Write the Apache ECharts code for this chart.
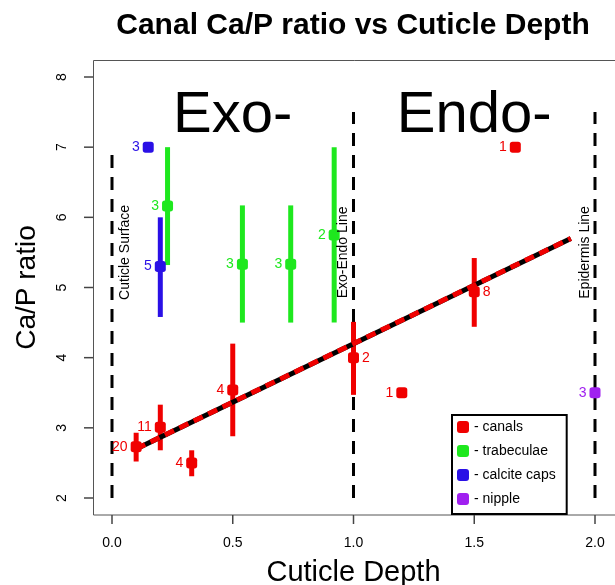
<!DOCTYPE html>
<html lang="en">
<head>
    <meta charset="UTF-8">
    <title>Canal Ca/P ratio vs Cuticle Depth</title>
    <script src="https://cdn.jsdelivr.net/npm/echarts@6/dist/echarts.min.js"></script>
    <style>
        html, body { margin: 0; padding: 0; background: #fff; }
        #main { width: 615px; height: 585px; }
    </style>
</head>
<body>
    <div id="main"></div>
    <script>
        // canals
        let canalX = [0.1, 0.2, 0.33, 0.5, 1.0, 1.2, 1.5, 1.67];
        let canalY = [2.73, 3.01, 2.5, 3.54, 4.0, 3.5, 4.94, 7.0];
        let canalLo = [2.52, 2.68, 2.31, 2.88, 3.47, null, 4.44, null];
        let canalHi = [2.93, 3.33, 2.68, 4.2, 4.51, null, 5.42, null];
        let canalN = [20, 11, 4, 4, 2, 1, 8, 1];
        let canalSide = ['left', 'left', 'left', 'left', 'right', 'left', 'right', 'left'];

        // trabeculae
        let trabX = [0.23, 0.54, 0.74, 0.92];
        let trabY = [6.16, 5.33, 5.33, 5.75];
        let trabLo = [5.32, 4.5, 4.5, 4.5];
        let trabHi = [7.0, 6.17, 6.17, 7.0];
        let trabN = [3, 3, 3, 2];

        // calcite caps
        let capX = [0.15, 0.2];
        let capY = [7.0, 5.3];
        let capLo = [null, 4.58];
        let capHi = [null, 6.0];
        let capN = [3, 5];

        // nipple
        let nipX = [2.0];
        let nipY = [3.5];
        let nipN = [3];

        // fit line
        let fitX = [0.1, 1.9];
        let fitY = [2.7, 5.7];

        // boundaries
        let boundX = [0, 1, 2];
        let boundTop = [6.9, 7.5, 7.5];
        let boundBottom = 2;
        let boundNames = ['Cuticle Surface', 'Exo-Endo Line', 'Epidermis Line'];
        let boundLabelX = [0.053, 0.957, 1.96];
        let boundLabelY = 5.5;

        let zoneNames = ['Exo-', 'Endo-'];
        let zoneX = [0.5, 1.5];
        let zoneY = 7.45;

        let xTicks = [0, 0.5, 1, 1.5, 2];
        let yTicks = [2, 3, 4, 5, 6, 7, 8];

        let RED = '#f00000', GREEN = '#1ee81e', BLUE = '#2a10e6', PURPLE = '#a020f0';
        let FONT = '"Liberation Sans", Arial, Helvetica, sans-serif';
        let X_OFF = 17, Y_OFF = 19, TICK = 9;

        function pts(xs, ys) {
            return xs.map(function (x, i) { return [x, ys[i]]; });
        }
        function bars(xs, lo, hi) {
            let out = [];
            xs.forEach(function (x, i) {
                if (lo[i] != null) out.push([x, lo[i], hi[i]]);
            });
            return out;
        }
        function errRender(params, api) {
            let a = api.coord([api.value(0), api.value(1)]);
            let b = api.coord([api.value(0), api.value(2)]);
            return {
                type: 'line',
                shape: { x1: a[0], y1: a[1], x2: b[0], y2: b[1] },
                style: { stroke: api.visual('color'), lineWidth: 5, lineCap: 'butt' }
            };
        }
        function errSeries(name, color, data) {
            return {
                name: name, type: 'custom', renderItem: errRender, clip: false,
                data: data, itemStyle: { color: color }, silent: true, z: 3
            };
        }
        function markSeries(name, color, xs, ys, ns, sides) {
            return {
                name: name, type: 'scatter', symbol: 'roundRect', symbolSize: 11, clip: false,
                data: xs.map(function (x, i) {
                    return {
                        value: [x, ys[i]],
                        label: { position: sides ? sides[i] : 'left' }
                    };
                }),
                itemStyle: { color: color, opacity: 1 },
                label: {
                    show: true, distance: 3, color: color, fontSize: 14, fontFamily: FONT,
                    formatter: function (p) { return String(ns[p.dataIndex]); }
                },
                silent: true, z: 6
            };
        }
        // R-style outward ticks on the offset frame
        function xTickRender(params, api) {
            let p = api.coord([api.value(0), api.value(1)]);
            let y0 = p[1] + X_OFF;
            return {
                type: 'line', shape: { x1: p[0], y1: y0, x2: p[0], y2: y0 + TICK },
                style: { stroke: api.visual('color'), lineWidth: 1.5 }
            };
        }
        function yTickRender(params, api) {
            let p = api.coord([api.value(0), api.value(1)]);
            let x0 = p[0] - Y_OFF;
            return {
                type: 'line', shape: { x1: x0, y1: p[1], x2: x0 - TICK, y2: p[1] },
                style: { stroke: api.visual('color'), lineWidth: 1.5 }
            };
        }

        let chart = echarts.init(document.getElementById('main'));

        let series = [];
        series.push({
            type: 'custom', renderItem: xTickRender, clip: false, silent: true, z: 8,
            itemStyle: { color: '#444' },
            data: xTicks.map(function (v) { return [v, yTicks[0]]; })
        });
        series.push({
            type: 'custom', renderItem: yTickRender, clip: false, silent: true, z: 8,
            itemStyle: { color: '#444' },
            data: yTicks.map(function (v) { return [xTicks[0], v]; })
        });
        // boundary dashed lines
        boundX.forEach(function (x, i) {
            series.push({
                type: 'line', data: [[x, boundBottom], [x, boundTop[i]]],
                symbol: 'none', silent: true, z: 2, clip: false,
                lineStyle: { color: '#000', width: 3, type: [13, 9] }
            });
        });
        series.push(errSeries('canals err', RED, bars(canalX, canalLo, canalHi)));
        series.push(errSeries('trab err', GREEN, bars(trabX, trabLo, trabHi)));
        series.push(errSeries('caps err', BLUE, bars(capX, capLo, capHi)));
        // fit line: black underneath, red dashes on top
        series.push({
            type: 'line', data: pts(fitX, fitY), symbol: 'none', silent: true, z: 4, clip: false,
            lineStyle: { color: '#000', width: 5, cap: 'butt' }
        });
        series.push({
            type: 'line', data: pts(fitX, fitY), symbol: 'none', silent: true, z: 5, clip: false,
            lineStyle: { color: RED, width: 5, type: [10, 6], cap: 'butt' }
        });
        series.push(markSeries('canals', RED, canalX, canalY, canalN, canalSide));
        series.push(markSeries('trabeculae', GREEN, trabX, trabY, trabN));
        series.push(markSeries('calcite caps', BLUE, capX, capY, capN));
        series.push(markSeries('nipple', PURPLE, nipX, nipY, nipN));
        // zone labels
        series.push({
            type: 'scatter', symbolSize: 0, silent: true, z: 7, clip: false,
            itemStyle: { opacity: 1 },
            data: zoneNames.map(function (n, i) { return { name: n, value: [zoneX[i], zoneY] }; }),
            label: {
                show: true, position: 'inside', formatter: '{b}', opacity: 1,
                color: '#000', fontSize: 58, fontFamily: FONT
            }
        });
        // boundary labels
        series.push({
            type: 'scatter', symbolSize: 0, silent: true, z: 7, clip: false,
            itemStyle: { opacity: 1 },
            data: boundNames.map(function (n, i) { return { name: n, value: [boundLabelX[i], boundLabelY] }; }),
            label: {
                show: true, position: 'inside', rotate: 90, formatter: '{b}', opacity: 1,
                color: '#000', fontSize: 14, fontFamily: FONT
            }
        });

        chart.setOption({
            animation: false,
            backgroundColor: '#fff',
            title: {
                text: 'Canal Ca/P ratio vs Cuticle Depth',
                left: 348, top: 6, textAlign: 'center',
                textStyle: { fontSize: 30, fontWeight: 'bold', color: '#000', fontFamily: FONT }
            },
            legend: {
                data: ['canals', 'trabeculae', 'calcite caps', 'nipple'],
                orient: 'vertical', left: 452, top: 415,
                icon: 'roundRect', itemWidth: 12, itemHeight: 12, itemGap: 10,
                padding: [5, 11, 8, 5],
                borderColor: '#000', borderWidth: 2, backgroundColor: '#fff',
                selectedMode: false, z: 10,
                formatter: function (n) { return '- ' + n; },
                textStyle: { fontSize: 14, color: '#000', fontFamily: FONT }
            },
            // plot frame, R-style (4% padding round the data range)
            graphic: [{
                type: 'rect', silent: true, z: 1,
                shape: { x: 93.5, y: 60.5, width: 530, height: 454.5 },
                style: { fill: null, stroke: '#555', lineWidth: 1 }
            }],
            grid: {
                left: 112, top: 77, right: 20, bottom: 87,
                outerBoundsMode: 'none', containLabel: false
            },
            xAxis: {
                type: 'value', min: 0, max: 2, interval: 0.5, offset: X_OFF,
                name: 'Cuticle Depth', nameLocation: 'middle', nameGap: 43, nameMoveOverlap: false,
                nameTextStyle: { fontSize: 29, color: '#000', fontFamily: FONT },
                axisLine: { show: false, onZero: false },
                splitLine: { show: false },
                axisTick: { show: false },
                axisLabel: {
                    margin: 21, fontSize: 14, color: '#000', fontFamily: FONT,
                    formatter: function (v) { return v.toFixed(1); }
                }
            },
            yAxis: {
                type: 'value', min: 2, max: 8, interval: 1, offset: Y_OFF,
                name: 'Ca/P ratio', nameLocation: 'middle', nameGap: 52, nameMoveOverlap: false,
                nameTextStyle: { fontSize: 28, color: '#000', fontFamily: FONT },
                axisLine: { show: false, onZero: false },
                splitLine: { show: false },
                axisTick: { show: false },
                axisLabel: {
                    margin: 24, rotate: 90, fontSize: 14, color: '#000', fontFamily: FONT,
                    formatter: function (v) { return String(v); }
                }
            },
            series: series
        });
    </script>
</body>
</html>
